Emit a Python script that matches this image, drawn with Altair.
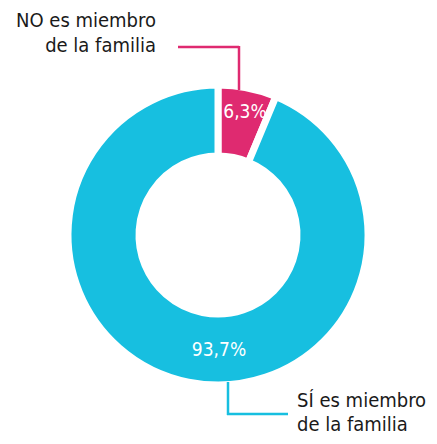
import altair as alt
import pandas as pd

categories = ["NO es miembro de la familia", "SÍ es miembro de la familia"]
values = [6.3, 93.7]
labels = ["6,3%", "93,7%"]
colors = ["#DF2A70", "#17BFE0"]
order = [0, 1]

df = pd.DataFrame({"cat": categories, "val": values, "lab": labels, "ord": order})

FONT = "DejaVu Sans Condensed, Roboto Condensed, Roboto, sans-serif"
CX, CY = 210, 227

arc = alt.Chart(df).mark_arc(
    outerRadius=150, innerRadius=79, stroke="white", strokeWidth=7
).encode(
    theta=alt.Theta("val:Q", stack=True),
    order=alt.Order("ord:Q"),
    color=alt.Color("cat:N", scale=alt.Scale(domain=categories, range=colors), legend=None),
    x=alt.value(CX), y=alt.value(CY),
)

pct_no = alt.Chart(df[df.ord == 0]).mark_text(
    font=FONT, fontSize=19, color="white", align="center", baseline="middle"
).encode(text="lab:N", x=alt.value(237), y=alt.value(104))

pct_si = alt.Chart(df[df.ord == 1]).mark_text(
    font=FONT, fontSize=19, color="white", align="center", baseline="middle"
).encode(text="lab:N", x=alt.value(211), y=alt.value(342))

name_no = alt.Chart(df[df.ord == 0]).mark_text(
    font=FONT, fontSize=20, color="#1a1a1a", align="right", baseline="middle",
    lineHeight=25
).encode(text=alt.value(["NO es miembro", "de la familia"]), x=alt.value(148), y=alt.value(13))

name_si = alt.Chart(df[df.ord == 1]).mark_text(
    font=FONT, fontSize=20, color="#1a1a1a", align="left", baseline="middle",
    lineHeight=24
).encode(text=alt.value(["SÍ es miembro", "de la familia"]), x=alt.value(289), y=alt.value(393))

r1 = alt.Chart(df[df.ord == 0]).mark_rule(color=colors[0], strokeWidth=2.5).encode(
    x=alt.value(170), x2=alt.value(231), y=alt.value(39))
r2 = alt.Chart(df[df.ord == 0]).mark_rule(color=colors[0], strokeWidth=2.5).encode(
    x=alt.value(231), y=alt.value(38), y2=alt.value(82))
r3 = alt.Chart(df[df.ord == 1]).mark_rule(color=colors[1], strokeWidth=2.5).encode(
    x=alt.value(220), y=alt.value(374), y2=alt.value(407))
r4 = alt.Chart(df[df.ord == 1]).mark_rule(color=colors[1], strokeWidth=2.5).encode(
    x=alt.value(219), x2=alt.value(280), y=alt.value(406))

chart = alt.layer(arc, r1, r2, r3, r4, pct_no, pct_si, name_no, name_si).properties(
    width=421, height=428, padding=0, autosize=alt.AutoSizeParams(type="none"),
    background="white"
).configure_view(stroke=None)

chart.save("out.html", embed_options={"renderer": "svg", "actions": False})
